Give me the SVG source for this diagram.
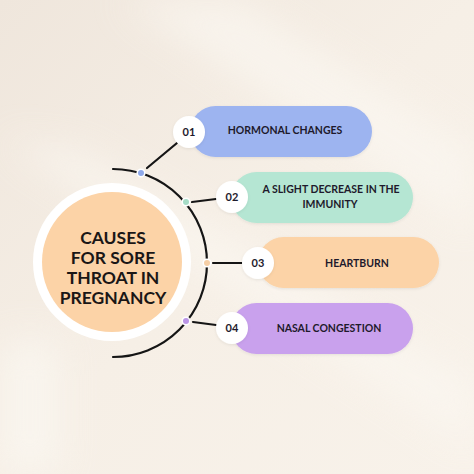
<svg xmlns="http://www.w3.org/2000/svg" width="474" height="474" viewBox="0 0 474 474">
<defs>
<style>
.lbl{font-family:Lato,"Liberation Sans",sans-serif;font-weight:700;font-size:10.5px;fill:#1e1a2c;text-anchor:middle}
.num{font-family:Lato,"Liberation Sans",sans-serif;font-weight:700;font-size:11px;fill:#1e1a2c;text-anchor:middle}
.ttl{font-family:Lato,"Liberation Sans",sans-serif;font-weight:700;font-size:17.5px;fill:#1a1616;text-anchor:middle}
.con{stroke:#151515;stroke-width:2.2;fill:none;stroke-linecap:round}
.ncirc{fill:#ffffff}
.dot{stroke:#ffffff;stroke-width:1.6}
</style>
<filter id="blur" x="-50%" y="-50%" width="200%" height="200%"><feGaussianBlur stdDeviation="18"/></filter>
<filter id="sh" x="-20%" y="-30%" width="140%" height="160%"><feDropShadow dx="0" dy="1" stdDeviation="1.5" flood-color="#000" flood-opacity="0.08"/></filter>
<linearGradient id="bg" x1="0" y1="0" x2="1" y2="1">
<stop offset="0" stop-color="#efe6dc"/>
<stop offset="0.5" stop-color="#f6efe6"/>
<stop offset="1" stop-color="#f8f2ea"/>
</linearGradient>
</defs>
<rect width="474" height="474" fill="url(#bg)"/>
<g filter="url(#blur)" opacity="0.7">
<path d="M120 0 L240 0 L474 150 L474 230 Z" fill="#fbf7f1"/>
<path d="M0 140 L80 150 L474 380 L474 450 Z" fill="#fbf7f1"/>
<path d="M0 340 L60 340 L60 474 L0 474 Z" fill="#fbf8f2"/>
</g>

<g id="connectors">
<path class="con" d="M113 169 A94 94 0 0 1 113 357"/>
<line class="con" x1="147" y1="168" x2="177" y2="143"/>
<line class="con" x1="192" y1="202" x2="216" y2="199"/>
<line class="con" x1="213" y1="263" x2="243" y2="263"/>
<line class="con" x1="193" y1="322" x2="216" y2="325"/>
<circle class="dot" cx="141" cy="173" r="3.8" fill="#8fa9ea"/>
<circle class="dot" cx="186" cy="202" r="3.8" fill="#a6dcc6"/>
<circle class="dot" cx="207" cy="263" r="3.8" fill="#f6cfa6"/>
<circle class="dot" cx="186" cy="321" r="3.8" fill="#bb95e6"/>
</g>

<g id="center">
<circle cx="112" cy="262" r="79" fill="#ffffff"/>
<circle cx="112" cy="262" r="70" fill="#fcd3a7"/>
<text class="ttl" x="113" y="244">CAUSES</text>
<text class="ttl" x="113" y="264">FOR SORE</text>
<text class="ttl" x="113" y="284">THROAT IN</text>
<text class="ttl" x="113" y="304">PREGNANCY</text>
</g>

<g id="item1">
<rect x="190" y="106" width="182" height="51" rx="25.5" fill="#9db4f0" filter="url(#sh)"/>
<circle class="ncirc" cx="189" cy="132" r="16" filter="url(#sh)"/>
<text class="num" x="189" y="136">01</text>
<text class="lbl" x="285" y="133.5">HORMONAL CHANGES</text>
</g>

<g id="item2">
<rect x="231" y="172" width="182" height="51" rx="25.5" fill="#b5e6d3" filter="url(#sh)"/>
<circle class="ncirc" cx="232" cy="197" r="16" filter="url(#sh)"/>
<text class="num" x="232" y="201">02</text>
<text class="lbl" x="331" y="193">A SLIGHT DECREASE IN THE</text>
<text class="lbl" x="330" y="207.5">IMMUNITY</text>
</g>

<g id="item3">
<rect x="258" y="237" width="181" height="51" rx="25.5" fill="#fcd3a7" filter="url(#sh)"/>
<circle class="ncirc" cx="258" cy="263" r="16" filter="url(#sh)"/>
<text class="num" x="258" y="267">03</text>
<text class="lbl" x="357" y="267">HEARTBURN</text>
</g>

<g id="item4">
<rect x="231" y="303" width="182" height="51" rx="25.5" fill="#c9a1ed" filter="url(#sh)"/>
<circle class="ncirc" cx="232" cy="328" r="16" filter="url(#sh)"/>
<text class="num" x="232" y="332">04</text>
<text class="lbl" x="329" y="332">NASAL CONGESTION</text>
</g>
</svg>
